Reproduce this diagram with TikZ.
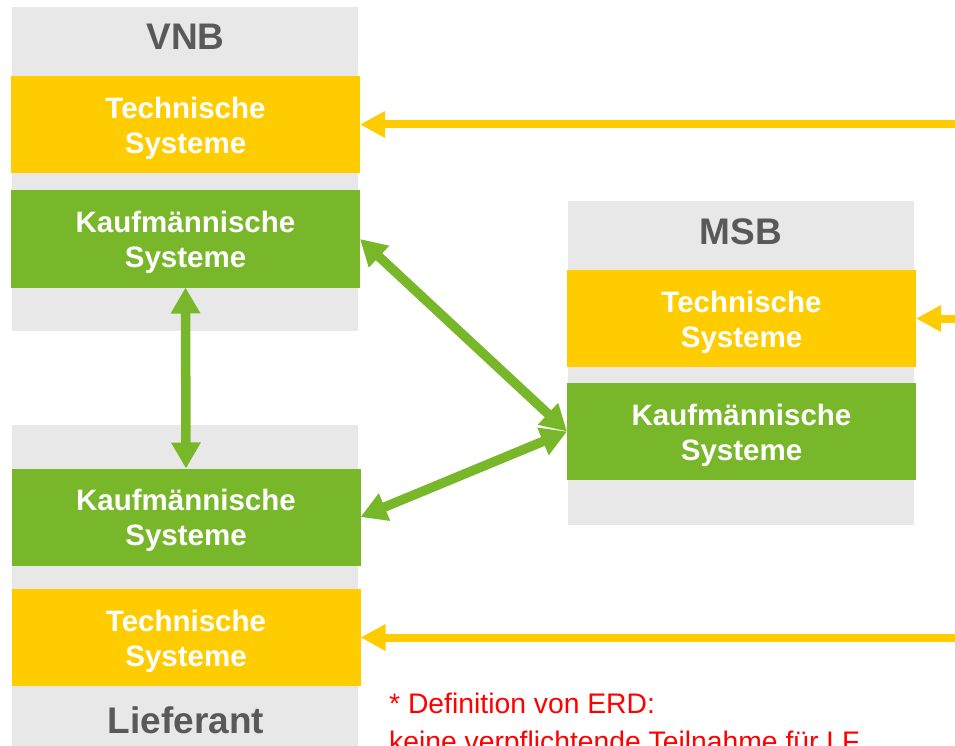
\documentclass[tikz,border=0pt]{standalone}
\usepackage{fontspec}
\setmainfont{Liberation Sans}
\usetikzlibrary{arrows.meta}
\definecolor{sysyellow}{HTML}{FFCC00}
\definecolor{sysgreen}{HTML}{78B72A}
\definecolor{panelgray}{HTML}{E8E8E8}
\definecolor{titlegray}{HTML}{595959}
\definecolor{notered}{HTML}{FF0000}
\tikzset{
  panel/.style={fill=panelgray, draw=none, inner sep=0pt, outer sep=0pt,
    minimum width=346pt, minimum height=324pt},
  sysbox/.style={draw=none, inner sep=0pt, outer sep=0pt,
    minimum width=349pt, minimum height=97pt},
  techbox/.style={sysbox, fill=sysyellow},
  kaufbox/.style={sysbox, fill=sysgreen},
  systext/.style={text=white, inner sep=0pt, align=center,
    font=\bfseries\fontsize{29.5}{35}\selectfont},
  paneltitle/.style={text=titlegray, inner sep=0pt,
    font=\bfseries\fontsize{37}{40}\selectfont},
  yarrow/.style={draw=sysyellow, line width=8pt,
    -{Triangle[length=25pt,width=25pt]}},
  garrow/.style={draw=sysgreen, line width=9.5pt,
    {Triangle[length=26pt,width=28pt]}-{Triangle[length=26pt,width=28pt]}},
}
\begin{document}
\begin{tikzpicture}[x=1pt,y=-1pt]
\useasboundingbox (0,0) rectangle (955,746);
\clip (0,0) rectangle (955,746);
\fill[white] (0,0) rectangle (955,746);

% VNB
\node[panel] (vnbP) at (185,169) {};
\node[paneltitle] (vnbL) at (185.5,37) {VNB};
\node[techbox] (vnbT) at (185.5,124.5) {};
\node[kaufbox] (vnbK) at (185.5,239) {};

% MSB
\node[panel] (msbP) at (741,363) {};
\node[paneltitle] (msbL) at (741,232) {MSB};
\node[techbox] (msbT) at (741.5,318.5) {};
\node[kaufbox] (msbK) at (741.5,431.5) {};

% Lieferant
\node[panel] (lfP) at (184.5,587) {};
\node[kaufbox] (lfK) at (186,517) {};
\node[techbox] (lfT) at (186,637.5) {};
\node[paneltitle] (lfL) at (186,720) {Lieferant};

% box labels, set a little below the box centres
\node[systext] (vnbTx) at ([yshift=-3.5pt]vnbT.center) {Technische\\Systeme};
\node[systext] (vnbKx) at ([yshift=-3.5pt]vnbK.center) {Kaufmännische\\Systeme};
\node[systext] (msbTx) at ([yshift=-3.5pt]msbT.center) {Technische\\Systeme};
\node[systext] (msbKx) at ([yshift=-3.5pt]msbK.center) {Kaufmännische\\Systeme};
\node[systext] (lfKx) at ([yshift=-3.5pt]lfK.center) {Kaufmännische\\Systeme};
\node[systext] (lfTx) at ([yshift=-3.5pt]lfT.center) {Technische\\Systeme};

% incoming feeds from the right
\coordinate (inA) at (965,124.5);
\coordinate (inB) at (965,318.5);
\coordinate (inC) at (965,637.5);
\draw[yarrow] (inA) -- (vnbT.east);
\draw[yarrow] (inB) -- (msbT.east);
\draw[yarrow] (inC) -- (lfT.east);

% exchange between commercial systems
\draw[garrow] (vnbK.south) -- (lfK.north);
\draw[garrow] (vnbK.east) -- (msbK.west);
\draw[garrow] (msbK.west) -- (lfK.east);

% footnote (base anchor sits on the last line)
\node[anchor=base west, inner sep=0pt, align=left, text=notered,
  font=\fontsize{28.3}{38}\selectfont] (note) at (389,751)
  {* Definition von ERD:\\keine verpflichtende Teilnahme für LF};
\end{tikzpicture}
\end{document}
